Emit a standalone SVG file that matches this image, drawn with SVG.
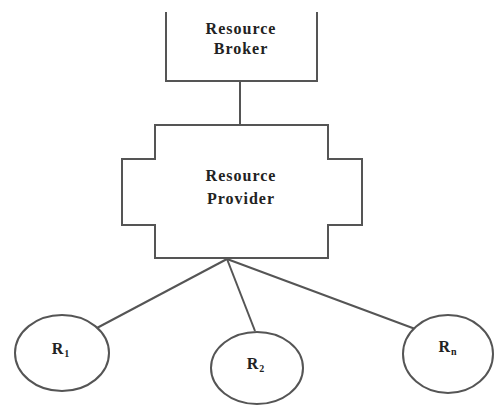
<svg xmlns="http://www.w3.org/2000/svg" width="495" height="405" viewBox="0 0 495 405">
<style>
.s{fill:#fff;stroke:#555;stroke-width:2}
.c{fill:none;stroke:#555;stroke-width:2}
.t{font-family:"Liberation Serif",serif;font-weight:bold;font-size:16px;letter-spacing:1px;fill:#222;text-anchor:middle}
.sub{font-size:10px}
</style>
<rect width="495" height="405" fill="#fff"/>
<g id="connectors">
<line class="c" x1="240" y1="81" x2="240" y2="125"/>
<line class="c" x1="227" y1="259" x2="95" y2="329"/>
<line class="c" x1="227" y1="259" x2="255" y2="331"/>
<line class="c" x1="227" y1="259" x2="418" y2="330"/>
</g>
<g id="broker">
<path class="s" d="M166,12 V81 H317 V12"/>
<text class="t" x="241" y="34">Resource</text>
<text class="t" x="241" y="54">Broker</text>
</g>
<g id="provider">
<path class="s" d="M155,125 H328 V159 H362 V225 H328 V258 H155 V225 H122 V159 H155 Z"/>
<text class="t" x="241" y="181">Resource</text>
<text class="t" x="241" y="204">Provider</text>
</g>
<g id="r1">
<ellipse class="s" cx="62" cy="353" rx="47" ry="38"/>
<text class="t" x="61" y="354">R<tspan class="sub" dy="3">1</tspan></text>
</g>
<g id="r2">
<ellipse class="s" cx="257" cy="368" rx="46" ry="36"/>
<text class="t" x="256" y="369">R<tspan class="sub" dy="3">2</tspan></text>
</g>
<g id="rn">
<ellipse class="s" cx="448" cy="354" rx="45" ry="39"/>
<text class="t" x="448" y="352">R<tspan class="sub" dy="3">n</tspan></text>
</g>
</svg>
